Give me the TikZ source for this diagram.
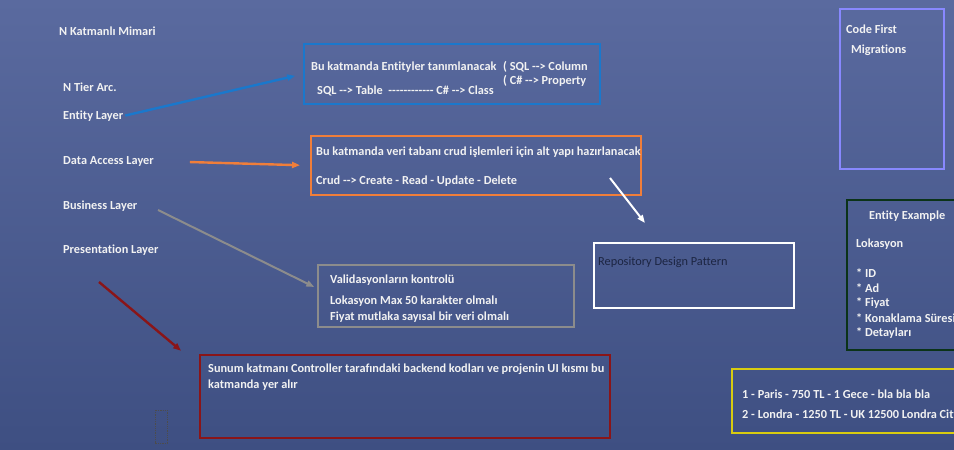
\documentclass[tikz,border=0pt]{standalone}
\usepackage{fontspec}
\setmainfont{Carlito}[Ligatures=NoCommon]
\usepackage{xcolor}
\usepackage{tikz}
\usetikzlibrary{arrows.meta, positioning, calc}
\definecolor{slidetop}{HTML}{5A6A9F}
\definecolor{slidebot}{HTML}{3E4F82}
\definecolor{slidetext}{HTML}{F2F2F2}
\definecolor{tierblue}{HTML}{1A78CC}
\definecolor{tierorange}{HTML}{F07E3A}
\definecolor{tiergray}{HTML}{8C8C8C}
\definecolor{tierred}{HTML}{8A1518}
\definecolor{tierlilac}{HTML}{8888FF}
\definecolor{tiergreen}{HTML}{0B3318}
\definecolor{tieryellow}{HTML}{D8CC10}
\definecolor{repotext}{HTML}{1C2542}
\newcommand{\maps}{-{}-{}>}

\begin{document}
\begin{tikzpicture}[
    x=1pt, y=-1pt,
    every node/.style={font=\fontsize{12.3}{14}\selectfont\bfseries, text=slidetext, inner sep=0pt},
    layerlabel/.style={anchor=west},
    notebox/.style={draw, line width=2pt, anchor=north west},
    boxtext/.style={anchor=west},
    linkarrow/.style={line width=2.4pt, -{Triangle[length=8pt, width=6pt]}},
]
    % Slide background
    \useasboundingbox (0,0) rectangle (954,450);
    \clip (0,0) rectangle (954,450);
    \shade[top color=slidetop, bottom color=slidebot] (0,0) rectangle (954,450);

    % Layer titles
    \node[layerlabel] (title) at (59,31) {N Katmanlı Mimari};
    \node[layerlabel] (tier) at (63,87) {N Tier Arc.};
    \node[layerlabel] (entity) at (63,116) {Entity Layer};
    \node[layerlabel] (dal) at (63,161) {Data Access Layer};
    \node[layerlabel] (bll) at (63,206) {Business Layer};
    \node[layerlabel] (pres) at (63,250) {Presentation Layer};

    % Entity layer box
    \node[notebox, draw=tierblue, minimum width=296pt, minimum height=60pt] (entitybox) at (303,43) {};
    \node[boxtext] at (311,67) {Bu katmanda Entityler tanımlanacak};
    \node[boxtext] at (503,67) {( SQL \maps{} Column};
    \node[boxtext] at (503,81) {( C\# \maps{} Property};
    \node[boxtext] at (317,91) {SQL \maps{} Table \ -{}-{}-{}-{}-{}-{}-{}-{}-{}-{}-{}- C\# \maps{} Class};

    % Data access box
    \node[notebox, draw=tierorange, minimum width=330pt, minimum height=59pt] (dalbox) at (310,135) {};
    \node[boxtext] at (316,152) {Bu katmanda veri tabanı crud işlemleri için alt yapı hazırlanacak};
    \node[boxtext] at (316,181) {Crud \maps{} Create - Read - Update - Delete};

    % Repository
    \node[notebox, draw=white, minimum width=200pt, minimum height=65pt] (repobox) at (593,242) {};
    \node[boxtext, text=repotext, font=\fontsize{12.3}{14}\selectfont] at (598,262) {Repository Design Pattern};

    % Business box
    \node[notebox, draw=tiergray, minimum width=256pt, minimum height=62pt] (bllbox) at (317,264) {};
    \node[boxtext] at (330,280) {Validasyonların kontrolü};
    \node[boxtext] at (330,301) {Lokasyon Max 50 karakter olmalı};
    \node[boxtext] at (330,317) {Fiyat mutlaka sayısal bir veri olmalı};

    % Presentation box
    \node[notebox, draw=tierred, minimum width=410pt, minimum height=83pt] (presbox) at (199,354) {};
    \node[boxtext] at (208,369) {Sunum katmanı Controller tarafındaki backend kodları ve projenin UI kısmı bu};
    \node[boxtext] at (208,385) {katmanda yer alır};

    % Code first
    \node[notebox, draw=tierlilac, minimum width=104pt, minimum height=160pt] (codefirst) at (839,8) {};
    \node[boxtext] at (846,29) {Code First};
    \node[boxtext] at (851,50) {Migrations};

    % Entity example
    \node[notebox, draw=tiergreen, minimum width=120pt, minimum height=150pt] (example) at (846,199) {};
    \node[boxtext] at (869,216) {Entity Example};
    \node[boxtext] at (856,244) {Lokasyon};
    \node[boxtext] at (856,273) {* ID};
    \node[boxtext] at (856,288) {* Ad};
    \node[boxtext] at (856,303) {* Fiyat};
    \node[boxtext] at (856,318) {* Konaklama Süresi};
    \node[boxtext] at (856,333) {* Detayları};

    % Sample rows
    \node[notebox, draw=tieryellow, minimum width=240pt, minimum height=64pt] (rows) at (731,368) {};
    \node[boxtext] at (742,394) {1 - Paris - 750 TL - 1 Gece - bla bla bla};
    \node[boxtext] at (742,415) {2 - Londra - 1250 TL - UK 12500 Londra City};

    % Arrows
    \coordinate (bllfrom) at (158,210);
    \coordinate (presfrom) at (99,282);
    \coordinate (repofrom) at (610,178);
    \coordinate (repoto) at (645,223);
    \draw[linkarrow, tierblue, shorten <=2pt, shorten >=8pt] (entity.east) -- (entitybox.west);
    \draw[linkarrow, tierorange, shorten <=36pt, shorten >=10pt] (dal.east) -- (dalbox.west);
    \draw[linkarrow, tiergray, line width=2pt, shorten >=3pt] (bllfrom) -- ($(bllbox.north west)!0.38!(bllbox.south west)$);
    \draw[linkarrow, tierred, shorten >=5pt] (presfrom) -- ($(presbox.north west)+(-14,0)$);
    \draw[linkarrow, white, line width=2pt] (repofrom) -- (repoto);

    % Selection marker
    \draw[densely dotted, black!70, line width=0.8pt] (155,410) rectangle (167,443);
\end{tikzpicture}
\end{document}
